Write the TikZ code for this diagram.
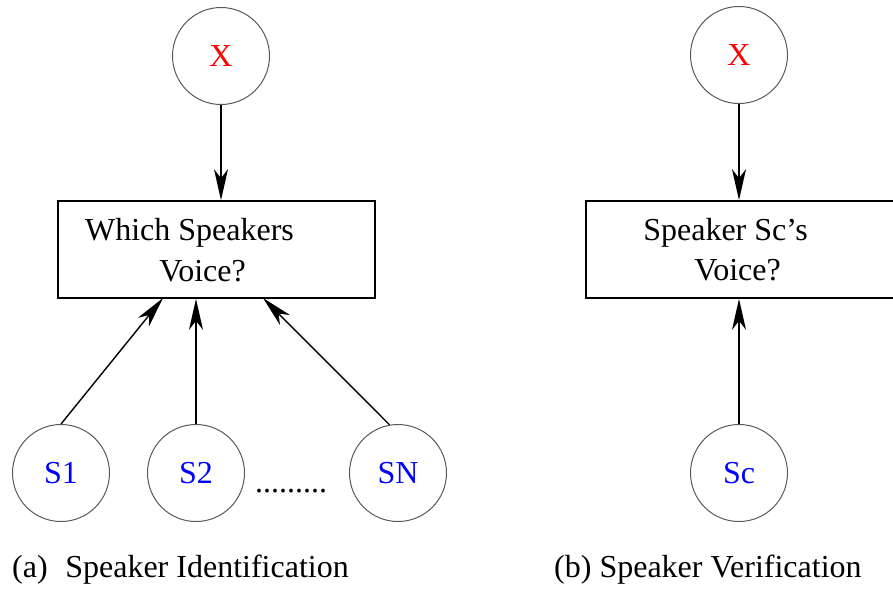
\documentclass[tikz,border=0pt]{standalone}
\usepackage{fontspec}
\setmainfont{Liberation Serif}
\usetikzlibrary{arrows.meta}
\begin{document}
\begin{tikzpicture}[x=1pt,y=-1pt,
  every node/.style={font=\fontsize{32}{38}\selectfont},
  var/.style={circle, draw=black!65, line width=1pt, minimum size=97pt, inner sep=0pt},
  query/.style={draw=black, line width=1.7pt, minimum width=317pt, minimum height=97pt, inner sep=0pt},
  link/.style={line width=1.4pt, -{Stealth[length=31pt,width=14pt,inset=9pt]}},
  txt/.style={anchor=base, inner sep=0pt},
  captext/.style={anchor=base west, inner sep=0pt}
]
\useasboundingbox (0,0) rectangle (893,590);
\clip (0,0) rectangle (893,590);

% (a) identification
\node[var, text=red] (xa) at (221,56) {X};
\node[query] (qa) at (216.5,249.5) {};
\node[txt] (qa1) at (189.5,240) {Which Speakers};
\node[txt] (qa2) at (202.5,281) {Voice?};
\node[var, text=blue] (s1) at (61,473) {S1};
\node[var, text=blue] (s2) at (196,473) {S2};
\node[var, text=blue] (sn) at (398,473) {SN};
\node[captext] (dots) at (255,492) {.........};
\coordinate (in1) at (163,298);
\coordinate (in3) at (263,298);
\draw[link] (xa.south) -- (xa.south |- qa.north);
\draw[link] (s1.north) -- (in1);
\draw[link] (s2.north) -- (s2.north |- qa.south);
\draw[link] (sn.100) -- (in3);
\node[captext] (capa) at (12,577) {(a)\hspace{0.55em}Speaker Identification};

% (b) verification
\node[var, text=red] (xb) at (739,55) {X};
\node[query] (qb) at (744.5,249.5) {};
\node[txt] (qb1) at (725.5,240) {Speaker Sc’s};
\node[txt] (qb2) at (737.5,280) {Voice?};
\node[var, text=blue] (sc) at (739,473) {Sc};
\draw[link] (xb.south) -- (xb.south |- qb.north);
\draw[link] (sc.north) -- (sc.north |- qb.south);
\node[captext] (capb) at (554,577) {(b) Speaker Verification};
\end{tikzpicture}
\end{document}
